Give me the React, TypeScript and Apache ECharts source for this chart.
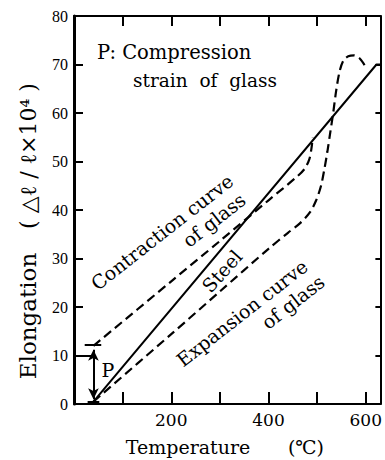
import React, { useEffect, useRef } from "react";
import * as echarts from "echarts";

// Temperature (°C) / elongation (Δℓ/ℓ ×10^4)
const steelT = [40, 622, 630];
const steelE = [0.5, 70, 70];

const contractionT = [40, 200, 300, 400, 460, 475, 484, 488, 491];
const contractionE = [12, 25.3, 33.6, 42, 47, 48.6, 50.5, 52.5, 55];

const expansionT = [40, 200, 300, 400, 440, 465, 485, 498, 508, 515, 521, 527, 533, 539, 546, 554, 564, 576, 588, 598];
const expansionE = [0.5, 14.4, 23.2, 32, 35.3, 37.3, 39.5, 42, 45, 48.5, 52, 56, 60, 64.5, 68.5, 70.8, 71.7, 71.9, 71.2, 69.8];

// P marker (compression strain of glass)
const pArrowFrom = [40, 1.0];
const pArrowTo = [40, 11.2];
const pTopBar = [[22, 12.2], [56, 12.2]];
const pBottomBar = [[28, 0.4], [52, 0.4]];
const pLevelLine = [[0, 10], [40, 10]];

const xTickLabels = [200, 400, 600];
const yTicks = [0, 10, 20, 30, 40, 50, 60, 70, 80];

const zip = (a: number[], b: number[]) => a.map((v, i) => [v, b[i]]);

const FONT = "'DejaVu Serif', 'Liberation Serif', serif";
const INK = "#000";

export default function App() {
  const ref = useRef<HTMLDivElement>(null);
  useEffect(() => {
    if (!ref.current) return;
    const chart = echarts.init(ref.current, undefined, { renderer: "svg" });
    const dashed = { color: INK, width: 2.2, type: [9, 5] as any };
    const txt = (x: number, y: number, text: string, size: number, rotDeg = 0, align = "center") => ({
      type: "text",
      x,
      y,
      rotation: (rotDeg * Math.PI) / 180,
      style: { text, fontFamily: FONT, fontSize: size, fill: INK, align, verticalAlign: "middle" },
    });
    chart.setOption({
      animation: false,
      backgroundColor: "#fff",
      grid: { left: 74, top: 16, right: 1, bottom: 56 },
      xAxis: [
        {
          type: "value",
          min: 0,
          max: 630,
          interval: 100,
          position: "bottom",
          axisLine: { show: true, onZero: false, lineStyle: { color: INK, width: 2 } },
          axisTick: { show: true, inside: true, length: 12, lineStyle: { color: INK, width: 2 } },
          axisLabel: {
            margin: 7,
            color: INK,
            fontFamily: FONT,
            fontSize: 17,
            formatter: (v: number) => (xTickLabels.includes(v) ? String(v) : ""),
          },
          splitLine: { show: false },
        },
        {
          type: "value",
          min: 0,
          max: 630,
          interval: 100,
          position: "top",
          axisLine: { show: true, onZero: false, lineStyle: { color: INK, width: 2 } },
          axisTick: { show: true, inside: true, length: 10, lineStyle: { color: INK, width: 2 } },
          axisLabel: { show: false },
          splitLine: { show: false },
        },
      ],
      yAxis: [
        {
          type: "value",
          min: 0,
          max: 80,
          interval: 10,
          position: "left",
          axisLine: { show: true, onZero: false, lineStyle: { color: INK, width: 3 } },
          axisTick: { show: true, inside: true, length: 9, lineStyle: { color: INK, width: 2 } },
          axisLabel: {
            margin: 6,
            color: INK,
            fontFamily: "'Liberation Serif', serif",
            fontSize: 16,
            formatter: (v: number) => (yTicks.includes(v) ? String(v) : ""),
          },
          splitLine: { show: false },
        },
        {
          type: "value",
          min: 0,
          max: 80,
          interval: 10,
          position: "right",
          axisLine: { show: true, onZero: false, lineStyle: { color: INK, width: 2 } },
          axisTick: { show: true, inside: true, length: 5, lineStyle: { color: INK, width: 2 } },
          axisLabel: { show: false },
          splitLine: { show: false },
        },
      ],
      series: [
        {
          name: "Steel",
          type: "line",
          data: zip(steelT, steelE),
          showSymbol: false,
          lineStyle: { color: INK, width: 2 },
        },
        {
          name: "Contraction curve of glass",
          type: "line",
          data: zip(contractionT, contractionE),
          showSymbol: false,
          smooth: 0.3,
          lineStyle: dashed,
        },
        {
          name: "Expansion curve of glass",
          type: "line",
          data: zip(expansionT, expansionE),
          showSymbol: false,
          smooth: 0.3,
          lineStyle: dashed,
        },
        {
          name: "P",
          type: "line",
          data: [],
          markLine: {
            silent: true,
            animation: false,
            label: { show: false },
            lineStyle: { color: INK, width: 2, type: "solid" },
            data: [
              [
                { coord: pArrowFrom, symbol: "arrow", symbolSize: [8, 11] },
                { coord: pArrowTo, symbol: "arrow", symbolSize: [8, 11] },
              ],
              [
                { coord: pTopBar[0], symbol: "none" },
                { coord: pTopBar[1], symbol: "none" },
              ],
              [
                { coord: pBottomBar[0], symbol: "none" },
                { coord: pBottomBar[1], symbol: "none" },
              ],
              [
                { coord: pLevelLine[0], symbol: "none" },
                { coord: pLevelLine[1], symbol: "none" },
              ],
            ],
          },
        },
      ],
      graphic: [
        txt(28, 316, "Elongation", 23, 90),
        txt(28, 156, "( △ℓ / ℓ×10⁴ )", 22, 90),
        txt(188, 447, "Temperature", 19),
        txt(306, 447, "(℃)", 19),
        txt(97, 52, "P: Compression", 19.5, 0, "left"),
        txt(133, 80, "strain  of  glass", 18.5, 0, "left"),
        txt(162, 232, "Contraction curve", 19, 38),
        txt(214, 220, "of glass", 19, 38),
        txt(222, 271, "Steel", 19, 48),
        txt(242, 313, "Expansion curve", 19, 38),
        txt(293, 302, "of glass", 19, 38),
        txt(108, 370, "P", 19),
      ],
    });
    return () => chart.dispose();
  }, []);
  return (
    <div
      ref={ref}
      style={{ position: "absolute", left: 0, top: 0, width: 385, height: 460, background: "#fff" }}
    />
  );
}
